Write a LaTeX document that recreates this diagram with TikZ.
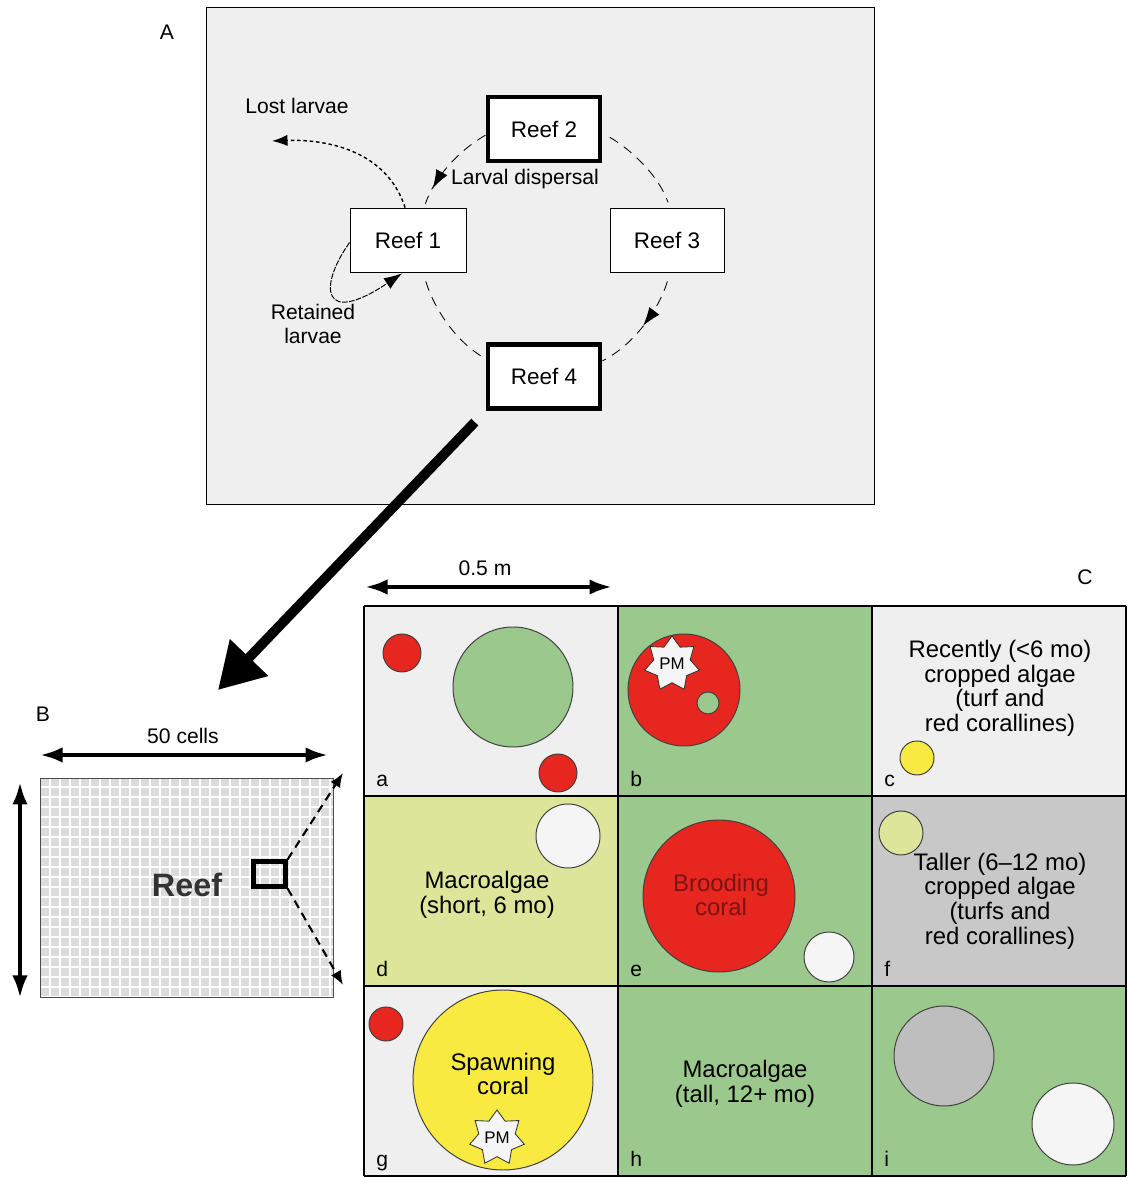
\documentclass[tikz,border=0pt]{standalone}
\usepackage{fontspec}
\setmainfont{Liberation Sans}
\usetikzlibrary{arrows.meta,shapes.geometric,decorations.markings}

\definecolor{fondo}{HTML}{EFEFEF}
\definecolor{algaverde}{HTML}{9BC88C}
\definecolor{algaclara}{HTML}{DCE59A}
\definecolor{cespedgris}{HTML}{C8C8C8}
\definecolor{coralrojo}{HTML}{E82620}
\definecolor{coralamarillo}{HTML}{F8EA40}
\definecolor{blanco}{HTML}{F5F5F5}
\definecolor{grismedio}{HTML}{BEBEBE}
\definecolor{rejilla}{HTML}{DCDCDC}
\definecolor{rojooscuro}{HTML}{7A1414}

\tikzset{
  arrecife/.style={draw, fill=white, line width=0.6pt, minimum width=2.9cm,
    minimum height=1.62cm, font=\fontsize{16}{18}\selectfont},
  arrecifeG/.style={arrecife, line width=3.5pt, minimum width=2.8cm, minimum height=1.6cm},
  disp/.style={dash pattern=on 7pt off 5pt, line width=0.6pt},
  flechamedio/.style={postaction={decorate}, decoration={markings,
    mark=at position #1 with {\arrow{Latex[length=13pt,width=9pt]}}}},
  txtA/.style={font=\fontsize{15}{17}\selectfont, align=center},
  txtC/.style={font=\fontsize{17}{17.5}\selectfont, align=center},
  letra/.style={font=\fontsize{15}{17}\selectfont, anchor=base west, inner sep=0pt},
  circulo/.style={draw=black!75, line width=0.7pt},
  estrella/.style={star, star points=7, star point ratio=1.5, draw=black!80,
    fill=blanco, line width=0.6pt, minimum size=1.4cm, inner sep=0pt,
    font=\fontsize{12}{12}\selectfont},
  medida/.style={{Latex[length=16pt,width=11pt]}-{Latex[length=16pt,width=11pt]}, line width=3pt},
  discont/.style={-{Latex[length=10pt,width=8pt]}, dash pattern=on 6pt off 4pt, line width=1.5pt},
  flechagrande/.style={-{Triangle[length=32pt,width=36pt]}, line width=7pt}
}

\begin{document}
\begin{tikzpicture}[x=0.025cm, y=0.025cm]
  \useasboundingbox (0,0) rectangle (1128,1177);

  % Panel A: red de arrecifes
  \draw[fill=fondo, line width=0.6pt] (206,673) rectangle (874,1170);
  \node[txtA] (etiqA) at (167,1145) {A};
  \node[arrecife] (r1) at (408,936.5) {Reef 1};
  \node[arrecifeG] (r2) at (544,1048) {Reef 2};
  \node[arrecife, minimum width=2.85cm] (r3) at (667,936.5) {Reef 3};
  \node[arrecifeG] (r4) at (544,800.5) {Reef 4};

  % Dispersion larval entre arrecifes
  \draw[disp, flechamedio=0.78, shorten >=3pt] (r2.186) to[out=210, in=71, looseness=0.85] (r1.64);
  \draw[disp, shorten <=6pt, shorten >=4pt] (r2.-4) to[out=-30, in=109, looseness=0.85] (r3.85);
  \draw[disp, flechamedio=0.52, shorten <=6pt] (r3.-85) to[out=-107, in=27, looseness=0.85] (r4.15);
  \draw[disp, shorten <=6pt] (r1.-65) to[out=-73, in=151, looseness=0.85] (r4.163);
  \node[txtA] (dispersion) at (525,998) {Larval dispersal};

  % Larvas perdidas y retenidas
  \coordinate (perdida) at (272,1036);
  \draw[dash pattern=on 2.5pt off 2pt, line width=1pt, -{Latex[length=11pt,width=8pt]}] (r1.95) to[out=108, in=2] (perdida);
  \node[txtA] (perdidas) at (297,1071) {Lost larvae};
  \draw[dash pattern=on 4pt off 1pt, line width=0.7pt, -{Latex[length=13pt,width=9pt]}] (r1.182) .. controls (318,890) and (322,850) .. (r1.-100);
  \node[txtA, font=\fontsize{15}{16.5}\selectfont] (retenidas) at (313,853) {Retained\\larvae};

  % Flecha gruesa hacia el panel B
  \coordinate (puntaB) at (218,487);
  \draw[flechagrande, shorten <=11pt] (r4.south west) -- (puntaB);

  % Panel B: rejilla del arrecife
  \node[txtA] (etiqB) at (43,463) {B};
  \node[txtA] (celdas) at (183,441) {50 cells};
  \coordinate (anchoI) at (40,422);
  \coordinate (anchoD) at (328,422);
  \draw[medida] (anchoI) -- (anchoD);
  \coordinate (altoA) at (20,395);
  \coordinate (altoB) at (20,179);
  \draw[medida] (altoA) -- (altoB);
  \fill[rejilla] (40,180) rectangle (333,399);
  \draw[white, line width=1.2pt, step=10] (40,180) grid (333,399);
  \draw[black!70, line width=0.6pt] (40,180) rectangle (333,399);
  \node[font=\fontsize{23}{23}\selectfont\bfseries, text=black!80] (reefB) at (187,292) {Reef};
  \node[draw, line width=3pt, minimum width=0.8cm, minimum height=0.62cm, inner sep=0pt] (celda) at (269.5,303) {};
  \coordinate (celdaArr) at (343,404);
  \coordinate (celdaAb) at (343,192);
  \draw[discont] (celda.north east) -- (celdaArr);
  \draw[discont] (celda.south east) -- (celdaAb);

  % Panel C: nueve celdas
  \node[txtA] (medio) at (485,609) {0.5 m};
  \coordinate (medioI) at (365,590);
  \coordinate (medioD) at (612,590);
  \draw[medida] (medioI) -- (medioD);
  \node[txtA] (etiqC) at (1085,600) {C};
  \foreach \i/\j/\relleno in {0/0/fondo, 1/0/algaverde, 2/0/fondo,
      0/1/algaclara, 1/1/algaverde, 2/1/cespedgris,
      0/2/fondo, 1/2/algaverde, 2/2/algaverde}
    \fill[\relleno] (364+254*\i, 571-190*\j) rectangle ++(254,-190);

  % Corales y algas
  \filldraw[circulo, fill=coralrojo] (402,524) circle (19);
  \filldraw[circulo, fill=algaverde] (513,490) circle (60);
  \filldraw[circulo, fill=coralrojo] (558,404) circle (19);
  \filldraw[circulo, fill=coralrojo] (684,487) circle (56);
  \filldraw[circulo, fill=algaverde] (708,474) circle (11);
  \filldraw[circulo, fill=coralamarillo] (917,419) circle (17);
  \filldraw[circulo, fill=blanco] (568,341) circle (32);
  \filldraw[circulo, fill=coralrojo] (719,281) circle (76);
  \filldraw[circulo, fill=blanco] (829,220) circle (25);
  \filldraw[circulo, fill=algaclara] (901,344) circle (22);
  \filldraw[circulo, fill=coralrojo] (386,153) circle (17);
  \filldraw[circulo, fill=coralamarillo] (503,97) circle (90);
  \filldraw[circulo, fill=grismedio] (944,121) circle (50);
  \filldraw[circulo, fill=blanco] (1073,53) circle (41);
  \node[estrella] (pmB) at (672,513) {PM};
  \node[estrella] (pmG) at (497,39) {PM};

  % Lineas de la rejilla
  \draw[line width=2pt, shift={(364,1)}, xstep=254, ystep=190] (0,0) grid (762,570);

  % Letras de las celdas
  \foreach \i/\j/\letr in {0/0/a, 1/0/b, 2/0/c, 0/1/d, 1/1/e, 2/1/f, 0/2/g, 1/2/h, 2/2/i}
    \node[letra] (letra\letr) at (364+254*\i+12, 381-190*\j+9) {\letr};

  % Textos de las celdas
  \node[txtC] (textoC) at (1000,488.5) {Recently (<6 mo)\\cropped algae\\(turf and\\red corallines)};
  \node[txtC] (textoD) at (487,282) {Macroalgae\\(short, 6 mo)};
  \node[txtC, text=rojooscuro] (textoE) at (721,282) {Brooding\\coral};
  \node[txtC] (textoF) at (1000,276) {Taller (6--12 mo)\\cropped algae\\(turfs and\\red corallines)};
  \node[txtC] (textoG) at (503,103) {Spawning\\coral};
  \node[txtC] (textoH) at (745,93) {Macroalgae\\(tall, 12+ mo)};
\end{tikzpicture}
\end{document}
